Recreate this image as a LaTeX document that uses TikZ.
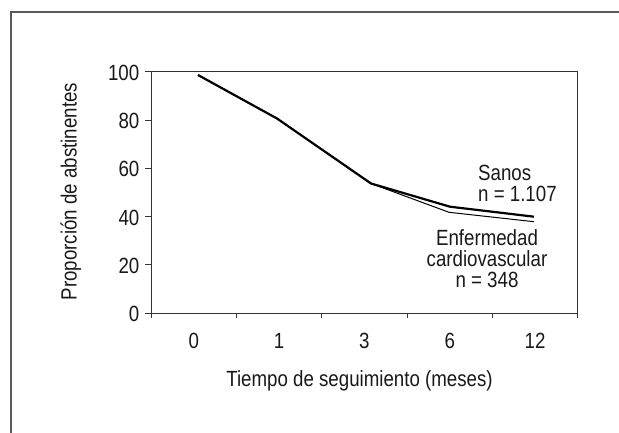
\documentclass[tikz,border=0pt]{standalone}
\usepackage{fontspec}
\setmainfont{Liberation Sans}[FakeStretch=0.85]
\usetikzlibrary{positioning}

\begin{document}
\begin{tikzpicture}[
x=1pt, y=-1pt,
every node/.style={font=\fontsize{22}{21}\selectfont, inner sep=0pt, text=black!90},
outerframe/.style={draw=black!65, line width=2pt},
plotbox/.style={draw=black!80, line width=1pt},
sanosline/.style={line width=2.2pt, line join=round},
cvdline/.style={line width=1pt, line join=round}
]

\useasboundingbox (0,0) rectangle (619,433);
\draw[outerframe] (11,433) -- (11,12) -- (619,12);

% axes
\draw[plotbox] (151,72) rectangle (577.7,313);
\foreach \v in {0,20,...,100}{
  \draw[plotbox] (145,{313-2.41*\v}) -- (151,{313-2.41*\v});
  \node[anchor=east] (y\v) at (139.5,{314-2.41*\v}) {\v};
}
\foreach \i in {0,...,5}
  \draw[plotbox] ({151+85.34*\i},313) -- ({151+85.34*\i},318);
\foreach \m [count=\i from 0] in {0,1,3,6,12}
  \node[anchor=base] (x\m) at ({193.7+85.34*\i},348.5) {\m};

\node[anchor=base] (xtitle) at (359.5,386) {Tiempo de seguimiento (meses)};
\node[anchor=base, rotate=90] (ytitle) at (76.7,191.5) {Proporción de abstinentes};

% curves
\draw[sanosline] (198,75) -- (277,118.5) -- (371,183.5) -- (450,206.7) -- (534,216.7);
\draw[cvdline] (198,75) -- (277,118.5) -- (371,183.5) -- (449,212.3) -- (534,221.7);

\node[anchor=north west, align=left] (sanos) at (478,165) {Sanos\\n = 1.107};
\node[anchor=north, align=center] (cvd) at (487,229) {Enfermedad\\cardiovascular\\n = 348};

\end{tikzpicture}
\end{document}
